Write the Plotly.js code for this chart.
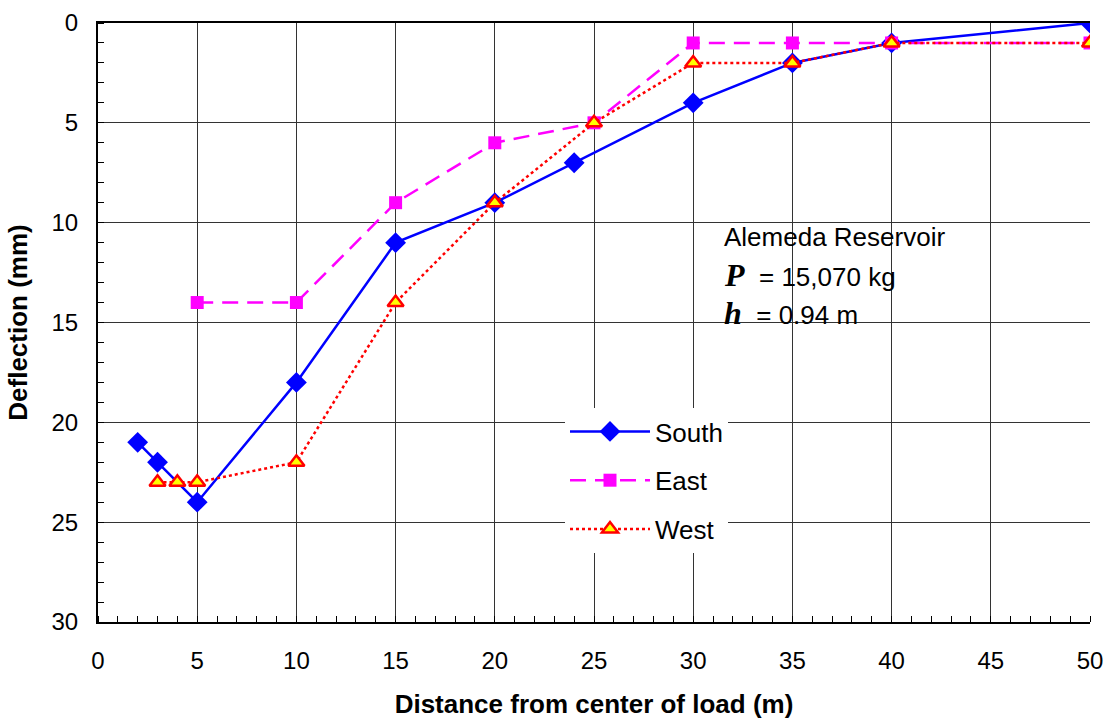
<!DOCTYPE html>
<html><head><meta charset="utf-8">
<script src="https://cdn.plot.ly/plotly-3.0.1.min.js"></script>
<style>body{margin:0;background:#fff}#chart{width:1107px;height:719px}</style>
</head><body><div id="chart"></div>
<script>
const southX = [2, 3, 5, 10, 15, 20, 24, 30, 35, 40, 50];
const southY = [21, 22, 24, 18, 11, 9, 7, 4, 2, 1, 0];
const eastX = [5, 10, 15, 20, 25, 30, 35, 40, 50];
const eastY = [14, 14, 9, 6, 5, 1, 1, 1, 1];
const westX = [3, 4, 5, 10, 15, 20, 25, 30, 35, 40, 50];
const westY = [23, 23, 23, 22, 14, 9, 5, 2, 2, 1, 1];
const xTicks = [0, 5, 10, 15, 20, 25, 30, 35, 40, 45, 50];
const yTicks = [0, 5, 10, 15, 20, 25, 30];

const FONT = 'Liberation Sans, Arial, sans-serif';
const SERIF = 'Liberation Serif, Times New Roman, serif';
const traces = [
  {x: southX, y: southY, name: 'South', mode: 'lines+markers', legendgroup: 'a',
   line: {color: '#0000ff', width: 2.5},
   marker: {symbol: 'diamond', size: 16, color: '#0000ff'}},
  {x: eastX, y: eastY, name: 'East', mode: 'lines+markers', legendgroup: 'b',
   line: {color: '#ff00ff', width: 2.5, dash: '16px,9px'},
   marker: {symbol: 'square', size: 13, color: '#ff00ff'}},
  {x: westX, y: westY, name: 'West', mode: 'lines+markers', legendgroup: 'c',
   line: {color: '#ff0000', width: 2.5, dash: 'dot'},
   marker: {symbol: 'triangle-up', size: 14, color: '#ffff00', line: {color: '#ff0000', width: 2.5}}}
];

const layout = {
  width: 1107, height: 719,
  margin: {l: 98, r: 17, t: 23, b: 97},
  paper_bgcolor: '#fff', plot_bgcolor: '#fff',
  font: {family: FONT, size: 24, color: '#000'},
  showlegend: true,
  legend: {x: (565-98)/992, y: (622-408)/599, xanchor: 'left', yanchor: 'top',
           bgcolor: '#fff', borderwidth: 0, font: {size: 26, family: FONT},
           itemwidth: 80, tracegroupgap: 12},
  xaxis: {range: [0, 50], tickvals: xTicks, ticks: '', showgrid: true,
          gridcolor: '#333', gridwidth: 1, zeroline: false,
          showline: true, linecolor: '#000', linewidth: 2, mirror: true,
          minor: {dtick: 1, ticks: 'inside', ticklen: 6, tickcolor: '#000', showgrid: false},
          tickfont: {size: 24}, ticklabelstandoff: 16,
          title: {text: '<b>Distance from center of load (m)</b>', font: {size: 26}, standoff: 22}},
  yaxis: {range: [30, 0], tickvals: yTicks, ticks: '', showgrid: true,
          gridcolor: '#333', gridwidth: 1, zeroline: false,
          showline: true, linecolor: '#000', linewidth: 2,
          minor: {dtick: 1, ticks: 'inside', ticklen: 6, tickcolor: '#000', showgrid: false},
          tickfont: {size: 24}, ticklabelstandoff: 13,
          title: {text: '<b>Deflection (mm)</b>', font: {size: 26}, standoff: 16}},
  shapes: [
    {type: 'rect', xref: 'paper', yref: 'paper', layer: 'between',
     x0: (717-98)/992, x1: (977-98)/992, y0: (622-357)/599, y1: (622-212)/599,
     fillcolor: '#fff', line: {width: 0}}
  ],
  annotations: [
    {xref: 'paper', yref: 'paper', x: (722-98)/992, y: (622-237)/599, xanchor: 'left', yanchor: 'middle',
     showarrow: false, text: 'Alemeda Reservoir', font: {size: 26, family: FONT}},
    {xref: 'paper', yref: 'paper', x: (722-98)/992, y: (622-275)/599, xanchor: 'left', yanchor: 'middle',
     showarrow: false, text: '<span style="font-family:' + SERIF + ';font-size:32px"><b><i>P</i></b></span>  = 15,070 kg', font: {size: 26, family: FONT}},
    {xref: 'paper', yref: 'paper', x: (722-98)/992, y: (622-313)/599, xanchor: 'left', yanchor: 'middle',
     showarrow: false, text: '<span style="font-family:' + SERIF + ';font-size:32px"><b><i>h</i></b></span>  = 0.94 m', font: {size: 26, family: FONT}}
  ]
};
Plotly.newPlot('chart', traces, layout, {displayModeBar: false});
</script></body></html>
